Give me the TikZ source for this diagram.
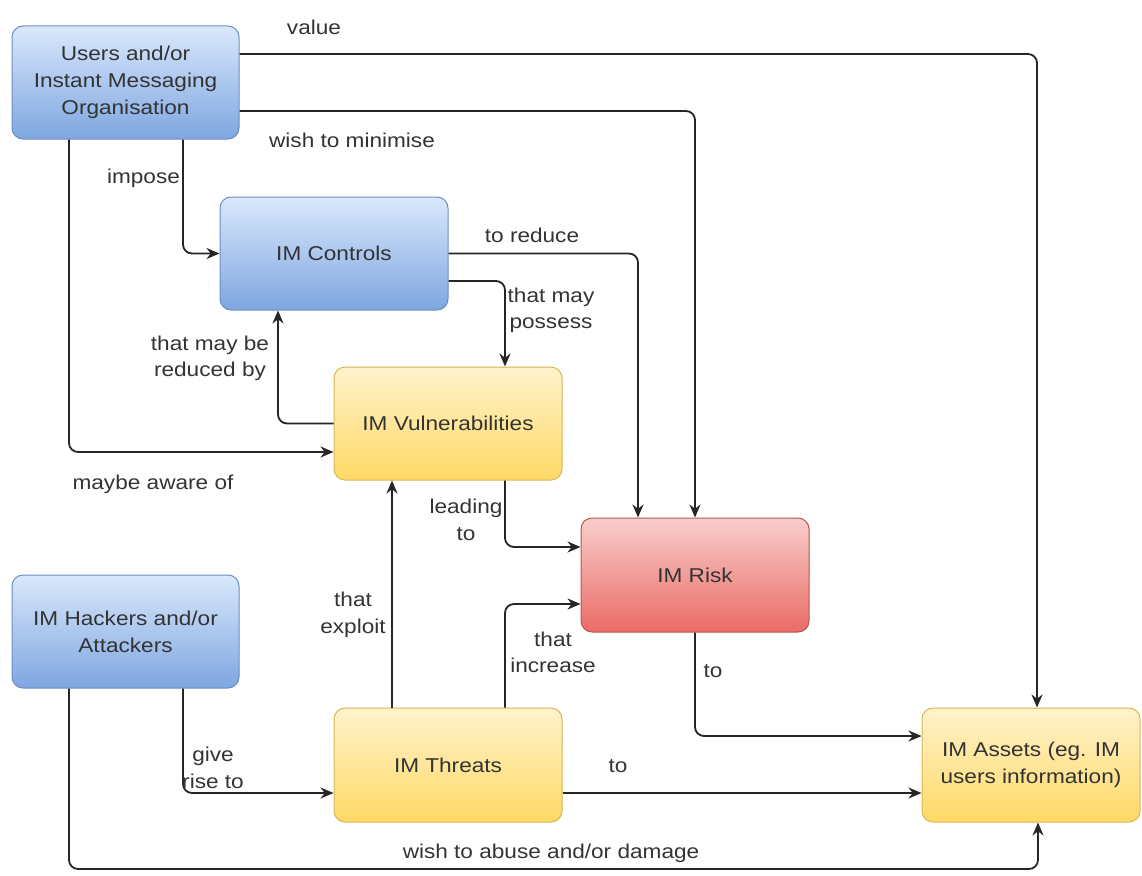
\documentclass[tikz,border=0pt]{standalone}
\usepackage{fontspec}
\setmainfont[FakeStretch=1.13]{Liberation Sans}
\usetikzlibrary{arrows.meta}
\definecolor{txt}{HTML}{333333}
\definecolor{bluetop}{HTML}{DAE8FC}
\definecolor{bluebot}{HTML}{7EA6E0}
\definecolor{blueline}{HTML}{6C8EBF}
\definecolor{yeltop}{HTML}{FFF2CC}
\definecolor{yelbot}{HTML}{FFD966}
\definecolor{yelline}{HTML}{D6B656}
\definecolor{redtop}{HTML}{F8CECC}
\definecolor{redbot}{HTML}{EA6B66}
\definecolor{redline}{HTML}{B85450}
\tikzset{
  box/.style={rectangle, rounded corners=11pt, minimum width=228pt, minimum height=113pt,
    align=center, text=txt, line width=1pt, inner sep=2pt,
    font=\fontsize{20}{27}\selectfont},
  bluebox/.style={box, draw=blueline, top color=bluetop, bottom color=bluebot},
  yelbox/.style={box, draw=yelline, top color=yeltop, bottom color=yelbot},
  redbox/.style={box, draw=redline, top color=redtop, bottom color=redbot},
  conn/.style={draw=black!85, line width=1.8pt, rounded corners=9pt,
    -{Stealth[length=13pt,width=11pt]}},
  lbl/.style={text=txt, align=center, inner sep=0pt, font=\fontsize{20}{26.5}\selectfont}
}
\begin{document}
\begin{tikzpicture}[x=1pt,y=-1pt]
\useasboundingbox (0,0) rectangle (1142,875);

% boxes
\node[bluebox, minimum width=227pt] (users) at (125.5,82.5) {Users and/or\\Instant Messaging\\Organisation};
\node[bluebox] (controls) at (334,253.5) {IM Controls};
\node[yelbox] (vuln) at (448,423.5) {IM Vulnerabilities};
\node[redbox, minimum height=114pt] (risk) at (695,575) {IM Risk};
\node[bluebox, minimum width=227pt] (hackers) at (125.5,631.5) {IM Hackers and/or\\Attackers};
\node[yelbox, minimum height=114pt] (threats) at (448,765) {IM Threats};
\node[yelbox, minimum width=218pt, minimum height=114pt] (assets) at (1031,765) {IM Assets (eg. IM\\users information)};

% bend coordinates
\coordinate (v) at (1037,54);
\coordinate (m) at (695,111);
\coordinate (im) at (183,0);
\coordinate (aw) at (69,452);
\coordinate (rd) at (638,0);
\coordinate (ps) at (505,281);
\coordinate (rb) at (278,0);
\coordinate (ld) at (505,547);
\coordinate (ex) at (392,0);
\coordinate (inc) at (505,604);
\coordinate (rt) at (0,736);
\coordinate (tt) at (0,793);
\coordinate (gr) at (183,793);
\coordinate (ab) at (69,869);
\coordinate (ab2) at (1038,869);

% connectors
\draw[conn] (users.east |- v) -| (v |- assets.north);
\draw[conn] (users.east |- m) -| (m |- risk.north);
\draw[conn] (im |- users.south) |- (controls.west);
\draw[conn] (aw |- users.south) |- (vuln.west |- aw);
\draw[conn] (controls.east) -| (rd |- risk.north);
\draw[conn] (controls.east |- ps) -| (ps |- vuln.north);
\draw[conn] (vuln.west) -| (rb |- controls.south);
\draw[conn] (ld |- vuln.south) |- (risk.west |- ld);
\draw[conn] (ex |- threats.north) -- (ex |- vuln.south);
\draw[conn] (inc |- threats.north) |- (risk.west |- inc);
\draw[conn] (risk.south) |- (assets.west |- rt);
\draw[conn] (threats.east |- tt) -- (assets.west |- tt);
\draw[conn] (gr |- hackers.south) |- (threats.west |- gr);
\draw[conn] (ab |- hackers.south) -- (ab) -- (ab2) -- (ab2 |- assets.south);

% labels
\node[lbl] (lvalue) at (314,27) {value};
\node[lbl] (lmin) at (352,140) {wish to minimise};
\node[lbl] (limp) at (143.5,178) {impose};
\node[lbl] (lred) at (532,235) {to reduce};
\node[lbl] (lpos) at (551,310.5) {that may\\possess};
\node[lbl] (lrb) at (210,358.5) {that may be\\reduced by};
\node[lbl] (law) at (153,484) {maybe aware of};
\node[lbl] (llead) at (466,520) {leading\\to};
\node[lbl] (lexp) at (353,615) {that\\exploit};
\node[lbl] (linc) at (553,652.5) {that\\increase};
\node[lbl] (lto1) at (713,671) {to};
\node[lbl] (lgive) at (213,768) {give\\rise to};
\node[lbl] (lto2) at (618,766) {to};
\node[lbl] (labuse) at (551,853) {wish to abuse and/or damage};
\end{tikzpicture}
\end{document}
